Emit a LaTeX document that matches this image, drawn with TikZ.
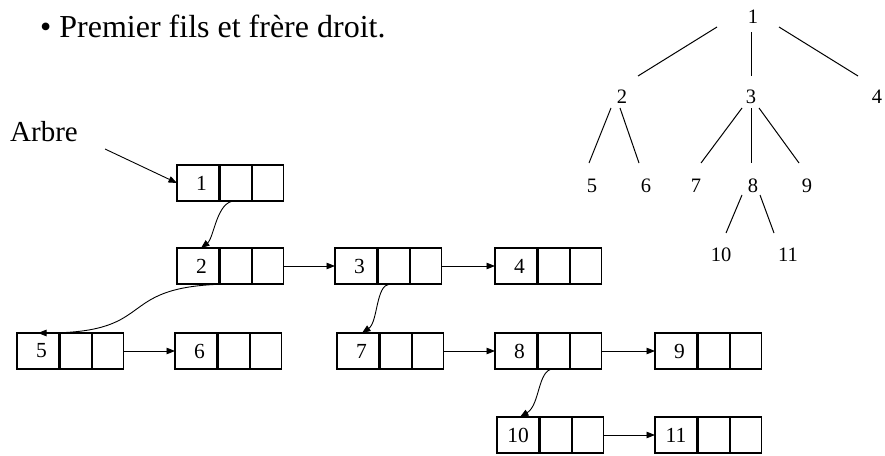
\documentclass[tikz,border=0pt]{standalone}
\usepackage{fontspec}
\setmainfont{Liberation Serif}
\usetikzlibrary{arrows.meta}
\tikzset{
  cellbase/.style={draw, line width=1.25pt, outer sep=0pt, inner sep=0pt, minimum height=36pt, font=\fontsize{21.5}{24}\selectfont},
  cellA/.style={cellbase, minimum width=42pt},
  cellB/.style={cellbase, minimum width=31pt},
  conn/.style={line width=0.9pt, -{Triangle[length=8.5pt,width=6.5pt]}},
  tnode/.style={inner sep=0pt, font=\fontsize{20.5}{24}\selectfont},
  tedge/.style={line width=1pt},
}
\newcommand\recbox[4]{%
  \node[cellA, anchor=north west] (#1a) at (#2,#3) {#4};
  \node[cellB, anchor=north west] (#1b) at ([xshift=1.2pt]#1a.north east) {};
  \node[cellB, anchor=north west] (#1c) at ([xshift=1.2pt]#1b.north east) {};
}
\begin{document}
\begin{tikzpicture}[x=1pt,y=-1pt]
\useasboundingbox (0,0) rectangle (885,455);
\node[anchor=base west, inner sep=0pt, font=\fontsize{32}{38}\selectfont] (title) at (40,37) {• Premier fils et frère droit.};
\node[anchor=base west, inner sep=0pt, font=\fontsize{29}{34}\selectfont] (arbre) at (10,141) {Arbre};
\coordinate (arbretail) at (105,149);

\recbox{n1}{177}{165}{\hspace{7pt}1}
\recbox{n2}{177}{248}{\hspace{7pt}2}
\recbox{n3}{335}{248}{\hspace{7pt}3}
\recbox{n4}{495}{248}{\hspace{7pt}4}
\recbox{n5}{17}{333}{\hspace{7pt}5}
\recbox{n6}{175}{333}{\hspace{7pt}6}
\recbox{n7}{337}{333}{\hspace{7pt}7}
\recbox{n8}{495}{333}{\hspace{7pt}8}
\recbox{n9}{655}{333}{\hspace{7pt}9}
\recbox{n10}{497}{417}{10}
\recbox{n11}{655}{417}{11}

\draw[conn] (arbretail) -- (n1a.west);
\draw[conn] (n2c.east) -- (n3a.west);
\draw[conn] (n3c.east) -- (n4a.west);
\draw[conn] (n5c.east) -- (n6a.west);
\draw[conn] (n7c.east) -- (n8a.west);
\draw[conn] (n8c.east) -- (n9a.west);
\draw[conn] (n10c.east) -- (n11a.west);

\draw[conn] ([xshift=-1pt]n1b.south) .. controls +(-18,0) and +(13,-10) .. ([xshift=3pt]n2a.north);
\draw[conn] ([xshift=-1pt]n2b.south) .. controls +(-125,0) and +(125,0) .. (n5a.north);
\draw[conn] ([xshift=-4pt]n3b.south) .. controls +(-14,1) and +(16,-11) .. ([xshift=4pt]n7a.north);
\draw[conn] ([xshift=-1pt]n8b.south) .. controls +(-15,1) and +(20,-12) .. ([xshift=2pt]n10a.north);

% tree
\node[tnode] (t1) at (753,17) {1};
\node[tnode] (t2) at (622,97) {2};
\node[tnode] (t3) at (751,97) {3};
\node[tnode] (t4) at (877,97) {4};
\node[tnode] (t5) at (592,186) {5};
\node[tnode] (t6) at (646,186) {6};
\node[tnode] (t7) at (696,186) {7};
\node[tnode] (t8) at (753,186) {8};
\node[tnode] (t9) at (807,186) {9};
\node[tnode] (t10) at (721,255) {10};
\node[tnode] (t11) at (788,255) {11};

\draw[tedge] ([shift={(-36,10)}]t1.center) -- ([shift={(16,-21)}]t2.center);
\draw[tedge] ([shift={(-2,15)}]t1.center) -- ([shift={(0,-21)}]t3.center);
\draw[tedge] ([shift={(26,10)}]t1.center) -- ([shift={(-19,-21)}]t4.center);
\draw[tedge] ([shift={(-11,11)}]t2.center) -- ([shift={(-3,-23)}]t5.center);
\draw[tedge] ([shift={(-2,11)}]t2.center) -- ([shift={(-7,-23)}]t6.center);
\draw[tedge] ([shift={(-9,11)}]t3.center) -- ([shift={(5,-23)}]t7.center);
\draw[tedge] ([shift={(0,11)}]t3.center) -- ([shift={(-2,-23)}]t8.center);
\draw[tedge] ([shift={(8,11)}]t3.center) -- ([shift={(-8,-23)}]t9.center);
\draw[tedge] ([shift={(-11,9)}]t8.center) -- ([shift={(5,-22)}]t10.center);
\draw[tedge] ([shift={(7,9)}]t8.center) -- ([shift={(-14,-22)}]t11.center);
\end{tikzpicture}
\end{document}
